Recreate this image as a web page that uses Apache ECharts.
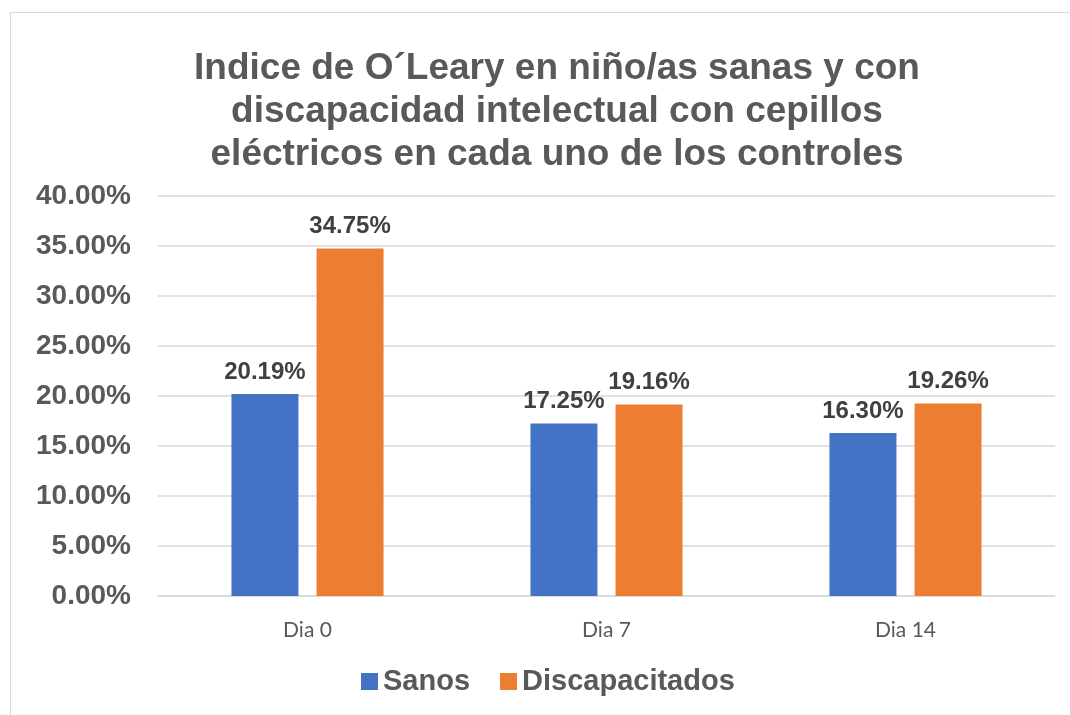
<!DOCTYPE html>
<html>
<head>
<meta charset="utf-8">
<script src="https://cdn.jsdelivr.net/npm/echarts@6/dist/echarts.min.js"></script>
<style>
  html, body { margin: 0; padding: 0; background: #fff; }
  #chart { width: 1070px; height: 715px; }
  .frame { position: absolute; left: 10px; top: 12px; width: 1080px; height: 720px; border: 1px solid #d9d9d9; pointer-events: none; }
</style>
</head>
<body>
<div id="chart"></div>
<div class="frame"></div>
<script>
var categories = ['Dia 0', 'Dia 7', 'Dia 14'];
var sanos = [20.19, 17.25, 16.30];
var discapacitados = [34.75, 19.16, 19.26];
var yTicks = [0, 5, 10, 15, 20, 25, 30, 35, 40];

var chart = echarts.init(document.getElementById('chart'));

var labelStyle = {
  show: true,
  position: 'top',
  distance: 10,
  color: '#404040',
  fontFamily: 'Liberation Sans, Arial',
  fontWeight: 'bold',
  fontSize: 24,
  formatter: function (p) { return p.value.toFixed(2) + '%'; }
};

chart.setOption({
  title: {
    text: 'Indice de O´Leary en niño/as sanas y con\ndiscapacidad intelectual con cepillos\neléctricos en cada uno de los controles',
    left: 552,
    top: 42,
    textAlign: 'center',
    textStyle: {
      color: '#595959',
      fontFamily: 'Liberation Sans, Arial',
      fontWeight: 'bold',
      fontSize: 37,
      lineHeight: 43
    }
  },
  legend: {
    bottom: 14,
    left: 356,
    itemWidth: 17,
    itemHeight: 17,
    itemGap: 30,
    icon: 'rect',
    textStyle: {
      color: '#595959',
      fontFamily: 'Liberation Sans, Arial',
      fontWeight: 'bold',
      fontSize: 29
    },
    data: ['Sanos', 'Discapacitados']
  },
  grid: {
    left: 158,
    right: 15,
    top: 196,
    bottom: 119
  },
  xAxis: {
    type: 'category',
    data: categories,
    axisLine: { lineStyle: { color: '#d9d9d9', width: 1.5 } },
    axisTick: { show: false },
    axisLabel: {
      color: '#595959',
      fontFamily: 'Lato, Open Sans',
      fontSize: 21,
      margin: 24
    }
  },
  yAxis: {
    type: 'value',
    min: yTicks[0],
    max: yTicks[yTicks.length - 1],
    interval: 5,
    axisLine: { show: false },
    axisTick: { show: false },
    splitLine: { lineStyle: { color: '#d9d9d9', width: 1.5 } },
    axisLabel: {
      color: '#595959',
      fontFamily: 'Liberation Sans, Arial',
      fontWeight: 'bold',
      fontSize: 28,
      margin: 27,
      formatter: function (v) { return v.toFixed(2) + '%'; }
    }
  },
  series: [
    {
      name: 'Sanos',
      type: 'bar',
      data: sanos,
      barWidth: 67,
      barGap: '27%',
      itemStyle: { color: '#4472c4' },
      label: labelStyle
    },
    {
      name: 'Discapacitados',
      type: 'bar',
      data: discapacitados,
      barWidth: 67,
      barGap: '27%',
      itemStyle: { color: '#ed7d31' },
      label: labelStyle
    }
  ]
});
</script>
</body>
</html>
